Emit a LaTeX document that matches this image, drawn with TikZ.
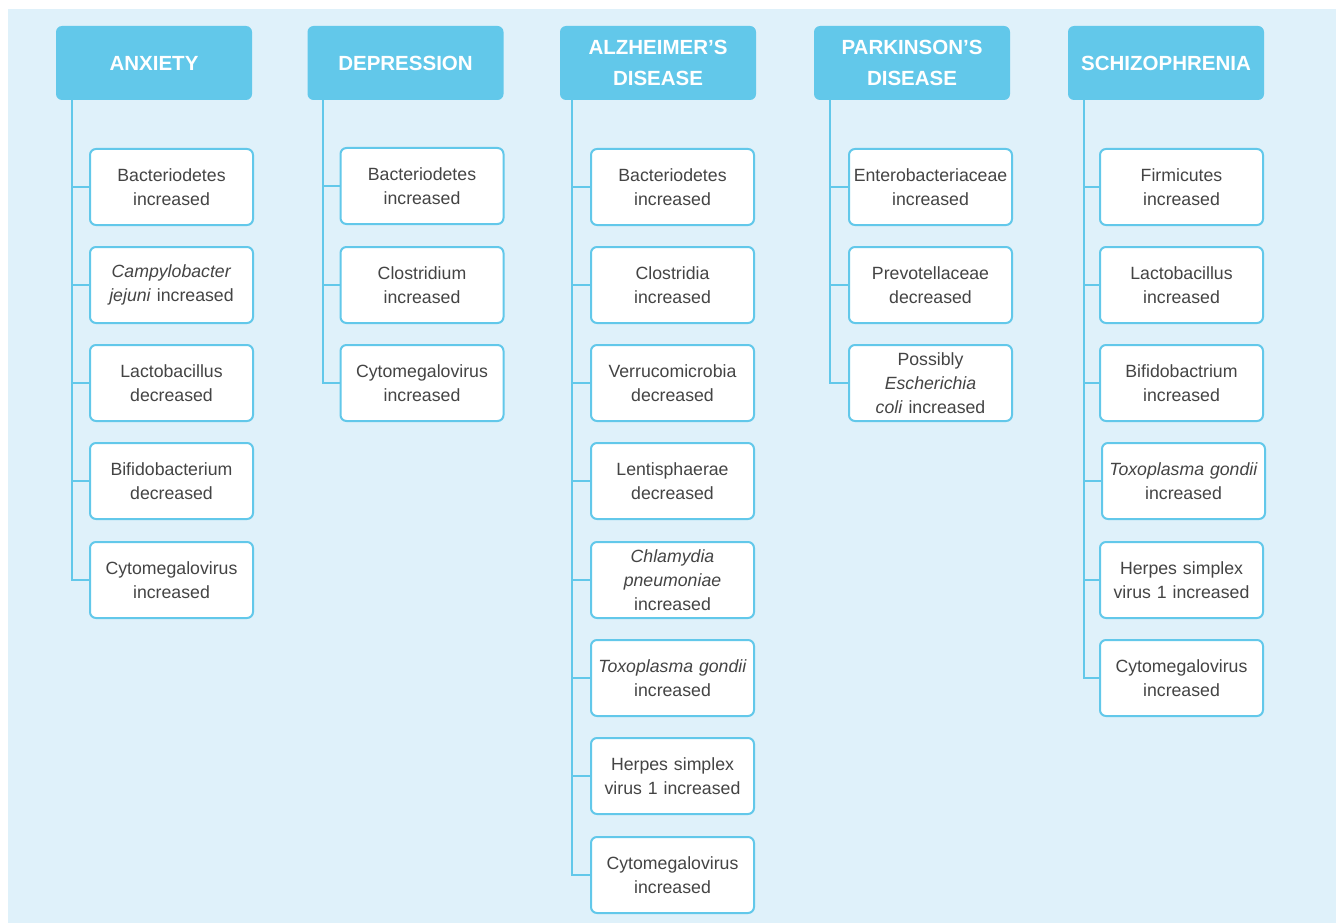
\documentclass[tikz,border=0pt]{standalone}
\usepackage{fontspec}
\setmainfont{Liberation Sans}
\definecolor{bgc}{HTML}{DFF1FA}
\definecolor{hdc}{HTML}{62C8EA}
\definecolor{bdc}{HTML}{62C8EA}
\definecolor{txc}{HTML}{444444}
\tikzset{
  hdr/.style={fill=hdc, draw=none, rounded corners=6pt, minimum width=196pt, minimum height=74pt,
    inner xsep=3pt, text width=190pt, align=center, text=white,
    font=\fontsize{20.5}{31}\selectfont\bfseries},
  itm/.style={fill=white, draw=bdc, line width=2pt, rounded corners=6pt, minimum height=76pt,
    inner xsep=1.5pt, inner ysep=0pt, text width=160pt, align=center, text=txc,
    font=\fontsize{17.7}{24}\selectfont},
  conn/.style={draw=bdc, line width=2pt}
}
\begin{document}
\begin{tikzpicture}[x=1pt,y=-1pt]
\useasboundingbox (0,0) rectangle (1336,923);
\fill[bgc] (8,9) rectangle (1336,923);

% headers
\node[hdr] (hA) at (154,63) {ANXIETY};
\node[hdr] (hD) at (405.5,63) {DEPRESSION};
\node[hdr] (hZ) at (658,63) {ALZHEIMER’S\\DISEASE};
\node[hdr] (hP) at (912,63) {PARKINSON’S\\DISEASE};
\node[hdr] (hS) at (1166,63) {SCHIZOPHRENIA};

% anxiety
\node[itm] (a1) at (171.5,187) {Bacteriodetes\\increased};
\node[itm] (a2) at (171.5,285) {\textit{Campylobacter}\\\textit{jejuni} increased};
\node[itm] (a3) at (171.5,383) {Lactobacillus\\decreased};
\node[itm] (a4) at (171.5,481) {Bifidobacterium\\decreased};
\node[itm] (a5) at (171.5,580) {Cytomegalovirus\\increased};

% depression
\node[itm] (d1) at (422,186) {Bacteriodetes\\increased};
\node[itm] (d2) at (422,285) {Clostridium\\increased};
\node[itm] (d3) at (422,383) {Cytomegalovirus\\increased};

% alzheimer
\node[itm] (z1) at (672.5,187) {Bacteriodetes\\increased};
\node[itm] (z2) at (672.5,285) {Clostridia\\increased};
\node[itm] (z3) at (672.5,383) {Verrucomicrobia\\decreased};
\node[itm] (z4) at (672.5,481) {Lentisphaerae\\decreased};
\node[itm] (z5) at (672.5,580) {\textit{Chlamydia}\\\textit{pneumoniae}\\increased};
\node[itm] (z6) at (672.5,678) {\textit{Toxoplasma gondii}\\increased};
\node[itm] (z7) at (672.5,776) {Herpes simplex\\virus 1 increased};
\node[itm] (z8) at (672.5,875) {Cytomegalovirus\\increased};

% parkinson
\node[itm] (p1) at (930.5,187) {Enterobacteriaceae\\increased};
\node[itm] (p2) at (930.5,285) {Prevotellaceae\\decreased};
\node[itm] (p3) at (930.5,383) {Possibly\\\textit{Escherichia}\\\textit{coli} increased};

% schizophrenia
\node[itm] (s1) at (1181.5,187) {Firmicutes\\increased};
\node[itm] (s2) at (1181.5,285) {Lactobacillus\\increased};
\node[itm] (s3) at (1181.5,383) {Bifidobactrium\\increased};
\node[itm] (s4) at (1183.5,481) {\textit{Toxoplasma gondii}\\increased};
\node[itm] (s5) at (1181.5,580) {Herpes simplex\\virus 1 increased};
\node[itm] (s6) at (1181.5,678) {Cytomegalovirus\\increased};

% connectors
\foreach \n in {a1,a2,a3,a4,a5} \draw[conn] ([xshift=16pt]hA.south west) |- (\n.west);
\foreach \n in {d1,d2,d3} \draw[conn] ([xshift=16pt]hD.south west) |- (\n.west);
\foreach \n in {z1,z2,z3,z4,z5,z6,z7,z8} \draw[conn] ([xshift=12pt]hZ.south west) |- (\n.west);
\foreach \n in {p1,p2,p3} \draw[conn] ([xshift=16pt]hP.south west) |- (\n.west);
\foreach \n in {s1,s2,s3,s4,s5,s6} \draw[conn] ([xshift=16pt]hS.south west) |- (\n.west);
\end{tikzpicture}
\end{document}
